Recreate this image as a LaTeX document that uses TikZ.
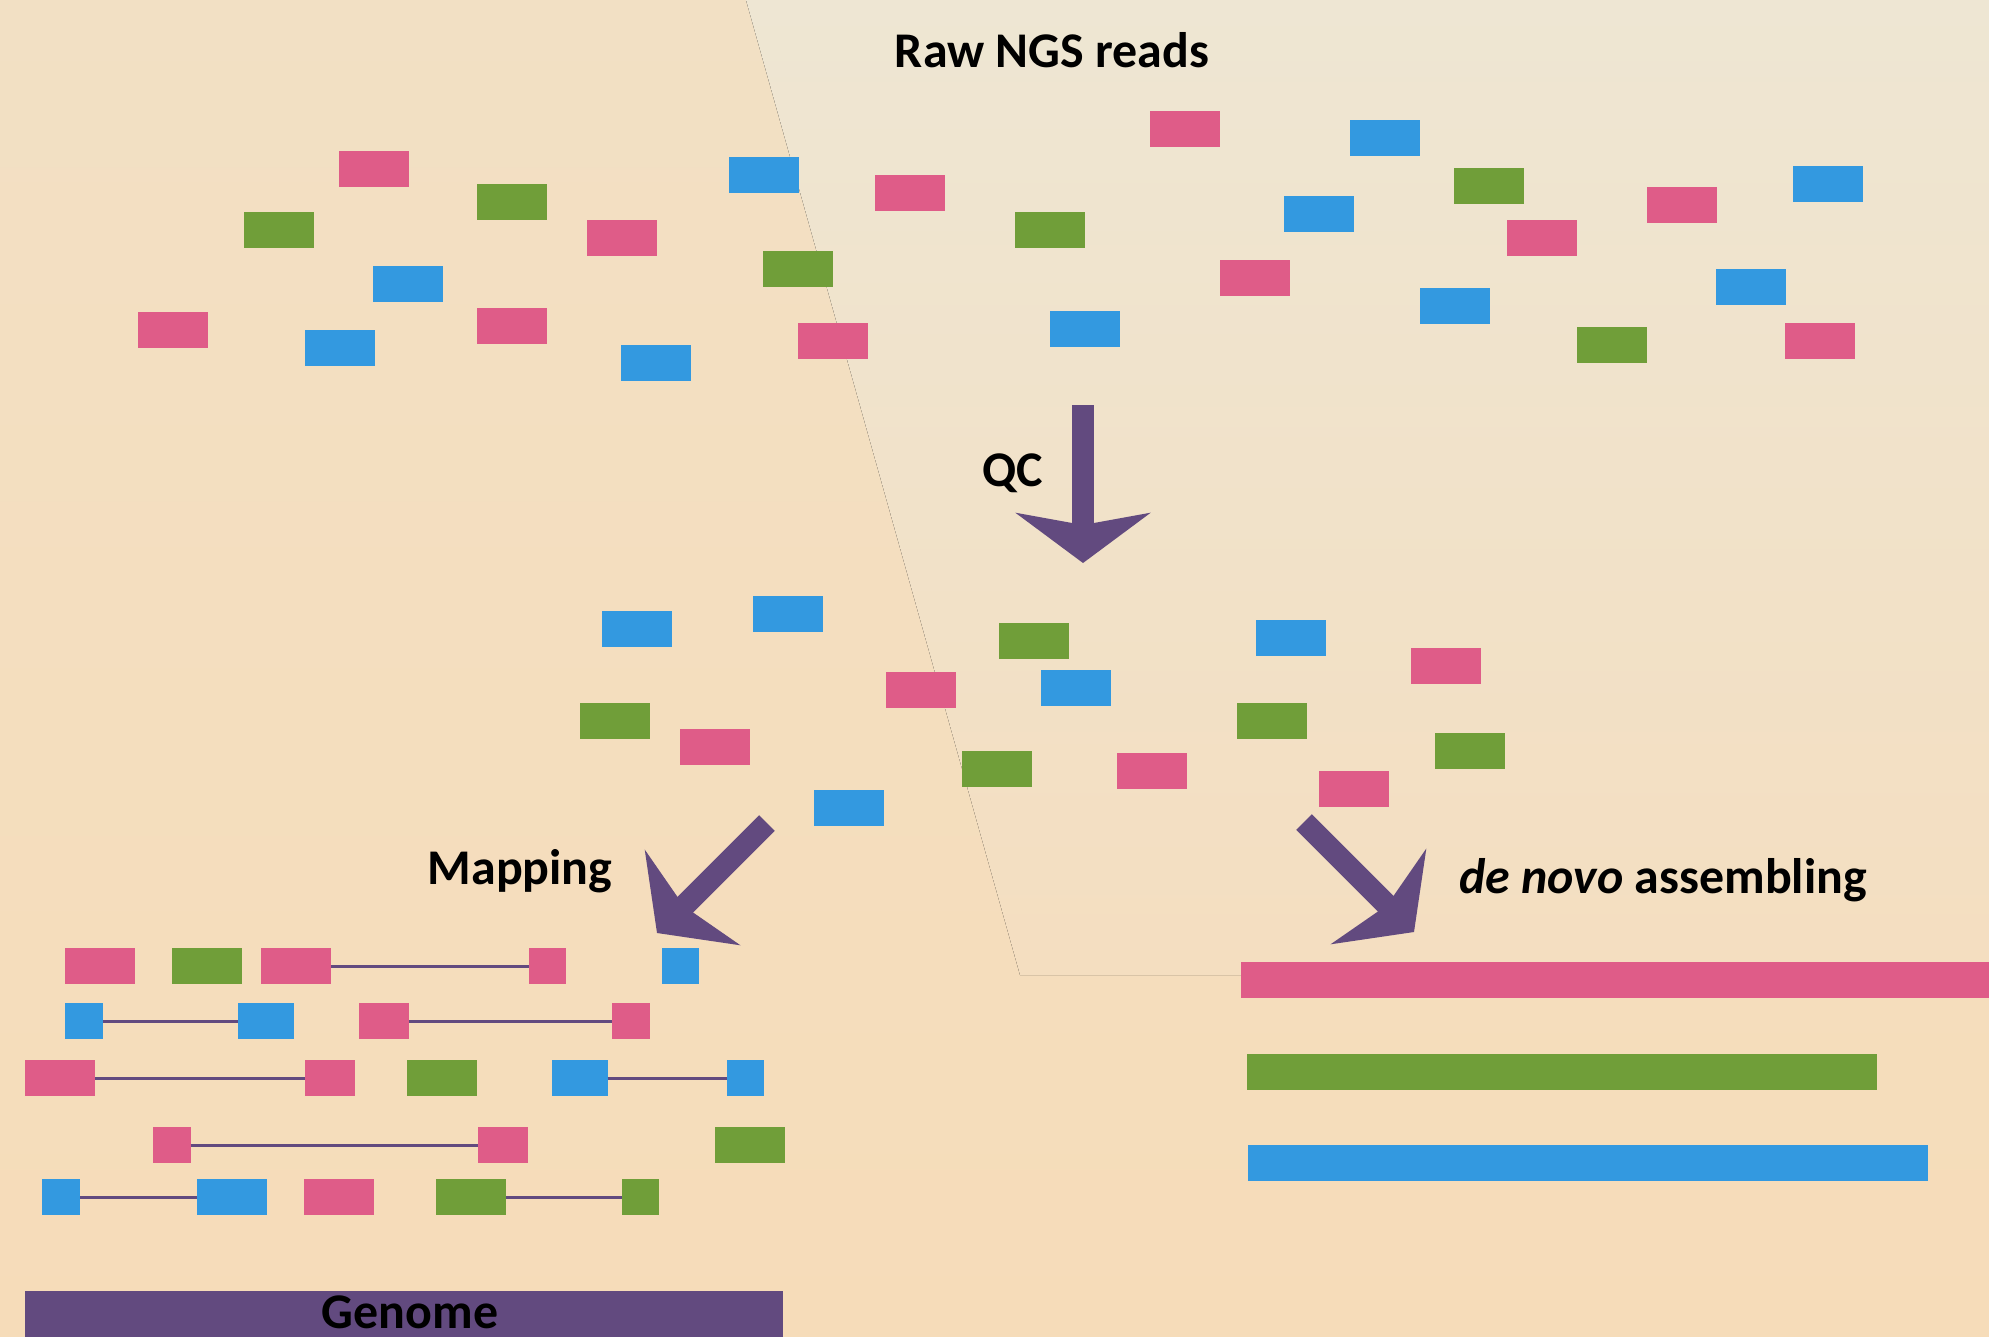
\documentclass[tikz,border=0pt]{standalone}
\usepackage{fontspec}
\setmainfont{Carlito}
\usetikzlibrary{arrows.meta}

\definecolor{readpink}{HTML}{DF5C88}
\definecolor{readgreen}{HTML}{709E39}
\definecolor{readblue}{HTML}{3399E0}
\definecolor{ngspurple}{HTML}{624A7F}
\definecolor{bgtop}{HTML}{F2E0C4}
\definecolor{bgbottom}{HTML}{F6DCB9}
\definecolor{lighttop}{HTML}{EEE6D3}
\definecolor{lightbottom}{HTML}{F4DEC0}

\begin{document}
\begin{tikzpicture}[
        x=0.01cm, y=-0.01cm,
        read/.style={rectangle, minimum width=0.7cm, minimum height=0.36cm, inner sep=0pt, outer sep=0pt},
        pinkread/.style={read, fill=readpink},
        greenread/.style={read, fill=readgreen},
        blueread/.style={read, fill=readblue},
        pairline/.style={draw=ngspurple, line width=0.03cm},
        bigarrow/.style={line width=0.22cm, draw=ngspurple, -{Stealth[length=0.5cm, width=1.34cm, inset=0.12cm]}},
        stagetext/.style={font=\bfseries\fontsize{14.2pt}{17pt}\selectfont, inner sep=0pt, anchor=base},
        contig/.style={rectangle, minimum height=0.36cm, inner sep=0pt, outer sep=0pt}
    ]
        % Background
        \useasboundingbox (0,0) rectangle (1989,1336);
        \fill[top color=bgtop, bottom color=bgbottom] (0,0) rectangle (1989,1336);
        \fill[top color=lighttop, bottom color=lightbottom] (746,0) -- (1989,0) -- (1989,975) -- (1020,975) -- cycle;

        % Raw reads
        \node[stagetext] (rawtitle) at (1052,67) {Raw NGS reads};
        \node[pinkread] (raw1) at (374,169) {};
        \node[pinkread] (raw2) at (622,238) {};
        \node[pinkread] (raw3) at (173,330) {};
        \node[pinkread] (raw4) at (512,326) {};
        \node[pinkread] (raw5) at (910,193) {};
        \node[pinkread] (raw6) at (1185,129) {};
        \node[pinkread] (raw7) at (833,341) {};
        \node[pinkread] (raw8) at (1255,278) {};
        \node[pinkread] (raw9) at (1542,238) {};
        \node[pinkread] (raw10) at (1682,205) {};
        \node[pinkread] (raw11) at (1820,341) {};
        \node[greenread] (raw12) at (279,230) {};
        \node[greenread] (raw13) at (512,202) {};
        \node[greenread] (raw14) at (798,269) {};
        \node[greenread] (raw15) at (1050,230) {};
        \node[greenread] (raw16) at (1489,186) {};
        \node[greenread] (raw17) at (1612,345) {};
        \node[blueread] (raw18) at (408,284) {};
        \node[blueread] (raw19) at (340,348) {};
        \node[blueread] (raw20) at (656,363) {};
        \node[blueread] (raw21) at (764,175) {};
        \node[blueread] (raw22) at (1085,329) {};
        \node[blueread] (raw23) at (1385,138) {};
        \node[blueread] (raw24) at (1319,214) {};
        \node[blueread] (raw25) at (1455,306) {};
        \node[blueread] (raw26) at (1751,287) {};
        \node[blueread] (raw27) at (1828,184) {};

        % QC step
        \coordinate (qcstart) at (1083,405);
        \coordinate (qcend) at (1083,563);
        \draw[bigarrow] (qcstart) -- (qcend);
        \node[stagetext] (qctext) at (1013,486) {QC};

        % Clean reads
        \node[blueread] (qc1) at (637,629) {};
        \node[blueread] (qc2) at (788,614) {};
        \node[blueread] (qc3) at (1076,688) {};
        \node[blueread] (qc4) at (1291,638) {};
        \node[blueread] (qc5) at (849,808) {};
        \node[greenread] (qc6) at (1034,641) {};
        \node[greenread] (qc7) at (615,721) {};
        \node[greenread] (qc8) at (1272,721) {};
        \node[greenread] (qc9) at (997,769) {};
        \node[greenread] (qc10) at (1470,751) {};
        \node[pinkread] (qc11) at (921,690) {};
        \node[pinkread] (qc12) at (715,747) {};
        \node[pinkread] (qc13) at (1446,666) {};
        \node[pinkread] (qc14) at (1152,771) {};
        \node[pinkread] (qc15) at (1354,789) {};

        % Mapping
        \coordinate (mapstart) at (767,823);
        \coordinate (mapend) at (657,933);
        \draw[bigarrow] (mapstart) -- (mapend);
        \node[stagetext] (maptext) at (520,884) {Mapping};

        \node[pinkread] (map1) at (100,966) {};
        \node[greenread] (map2) at (207,966) {};
        \node[pinkread] (map3) at (296,966) {};
        \node[pinkread, minimum width=0.37cm] (map4) at (547,966) {};
        \node[blueread, minimum width=0.37cm] (map5) at (680,966) {};
        \node[blueread, minimum width=0.38cm] (map6) at (84,1021) {};
        \node[blueread, minimum width=0.55cm] (map7) at (266,1021) {};
        \node[pinkread, minimum width=0.5cm] (map8) at (384,1021) {};
        \node[pinkread, minimum width=0.38cm] (map9) at (631,1021) {};
        \node[pinkread] (map10) at (60,1078) {};
        \node[pinkread, minimum width=0.5cm] (map11) at (330,1078) {};
        \node[greenread] (map12) at (442,1078) {};
        \node[blueread, minimum width=0.55cm] (map13) at (580,1078) {};
        \node[blueread, minimum width=0.37cm] (map14) at (745,1078) {};
        \node[pinkread, minimum width=0.37cm] (map15) at (172,1145) {};
        \node[pinkread, minimum width=0.5cm] (map16) at (503,1145) {};
        \node[greenread] (map17) at (750,1145) {};
        \node[blueread, minimum width=0.38cm] (map18) at (61,1197) {};
        \node[blueread] (map19) at (232,1197) {};
        \node[pinkread] (map20) at (339,1197) {};
        \node[greenread] (map21) at (471,1197) {};
        \node[greenread, minimum width=0.37cm] (map22) at (640,1197) {};

        \draw[pairline] (map3) -- (map4);
        \draw[pairline] (map6) -- (map7);
        \draw[pairline] (map8) -- (map9);
        \draw[pairline] (map10) -- (map11);
        \draw[pairline] (map13) -- (map14);
        \draw[pairline] (map15) -- (map16);
        \draw[pairline] (map18) -- (map19);
        \draw[pairline] (map21) -- (map22);

        % Genome
        \node[rectangle, fill=ngspurple, minimum width=7.58cm, minimum height=0.5cm, inner sep=0pt] (genomebar) at (404,1316) {};
        \node[stagetext] (genome) at (410,1328) {Genome};

        % de novo assembling
        \coordinate (novostart) at (1304,822);
        \coordinate (novoend) at (1414,932);
        \draw[bigarrow] (novostart) -- (novoend);
        \node[stagetext] (novotext) at (1663,893) {\textit{de novo} assembling};

        \node[contig, fill=readpink, minimum width=7.53cm] (contig1) at (1618,980) {};
        \node[contig, fill=readgreen, minimum width=6.29cm] (contig2) at (1562,1072) {};
        \node[contig, fill=readblue, minimum width=6.8cm] (contig3) at (1588,1163) {};
    \end{tikzpicture}
\end{document}
